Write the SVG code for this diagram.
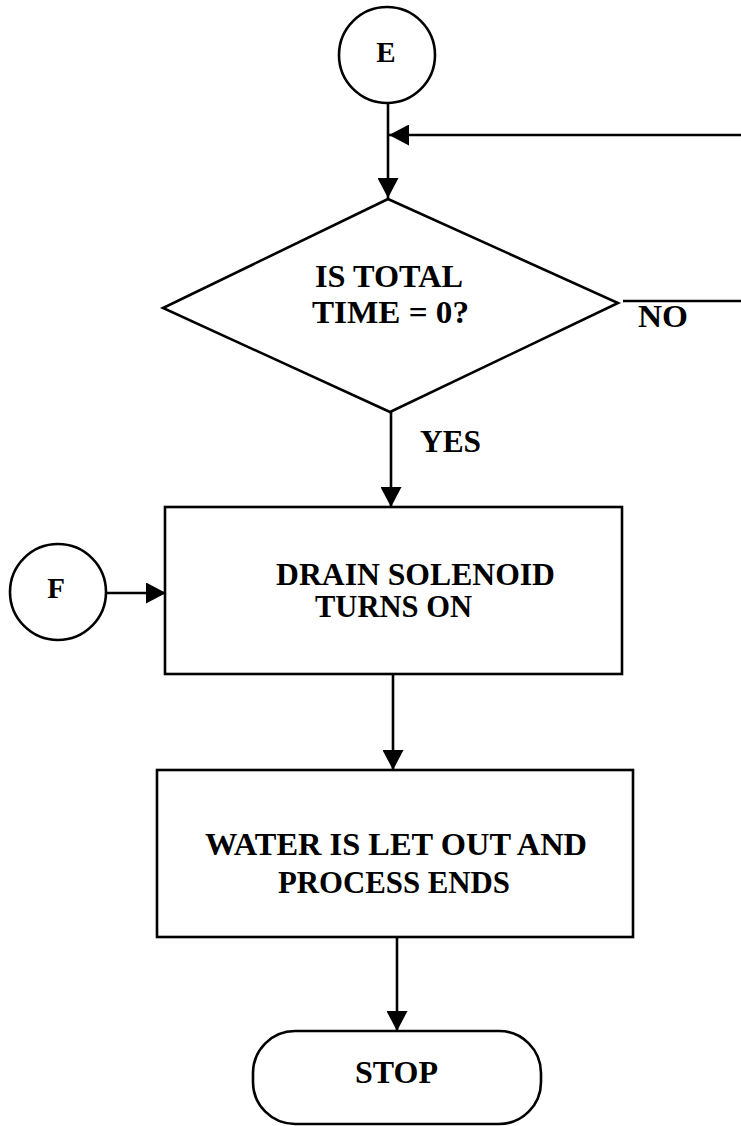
<svg xmlns="http://www.w3.org/2000/svg" width="741" height="1126" viewBox="0 0 741 1126">
<style>
.s{fill:none;stroke:#000;stroke-width:2.6}
.t{font-family:"Liberation Serif","Times New Roman",serif;font-weight:bold;font-size:31px;fill:#000}
.c{text-anchor:middle}
</style>
<defs>
<marker id="ah" viewBox="0 0 20 21" refX="20" refY="10.5" markerWidth="20" markerHeight="21" markerUnits="userSpaceOnUse" orient="auto">
<path d="M0,0 L20,10.5 L0,21 Z" fill="#000"/>
</marker>
</defs>
<rect width="741" height="1126" fill="#fff"/>
<g id="connectors">
<line class="s" x1="388" y1="103" x2="388" y2="198" marker-end="url(#ah)"/>
<line class="s" x1="741" y1="135" x2="389" y2="135" marker-end="url(#ah)"/>
<line class="s" x1="623" y1="301" x2="741" y2="301"/>
<line class="s" x1="391" y1="412" x2="391" y2="507" marker-end="url(#ah)"/>
<line class="s" x1="107" y1="593" x2="166" y2="593" marker-end="url(#ah)"/>
<line class="s" x1="393" y1="674" x2="393" y2="770" marker-end="url(#ah)"/>
<line class="s" x1="397" y1="937" x2="397" y2="1031" marker-end="url(#ah)"/>
<text class="t" x="638" y="327" textLength="50" lengthAdjust="spacingAndGlyphs">NO</text>
<text class="t" x="420" y="452" textLength="61" lengthAdjust="spacingAndGlyphs">YES</text>
</g>
<g id="nodeE">
<circle class="s" cx="387" cy="55" r="48"/>
<text class="t c" x="386" y="62" style="font-size:29px">E</text>
</g>
<g id="decision">
<polygon class="s" points="388,199 618,303 390,412 163,308"/>
<text class="t" x="315" y="287" textLength="148" lengthAdjust="spacingAndGlyphs">IS TOTAL</text>
<text class="t" x="312" y="323" textLength="157" lengthAdjust="spacingAndGlyphs">TIME  =  0?</text>
</g>
<g id="nodeF">
<circle class="s" cx="58" cy="592" r="48"/>
<text class="t c" x="56" y="598" style="font-size:29px">F</text>
</g>
<g id="drain">
<rect class="s" x="165" y="507" width="457" height="167"/>
<text class="t" x="276" y="585" textLength="279" lengthAdjust="spacingAndGlyphs">DRAIN SOLENOID</text>
<text class="t" x="315" y="617" textLength="157" lengthAdjust="spacingAndGlyphs">TURNS ON</text>
</g>
<g id="water">
<rect class="s" x="157" y="770" width="476" height="167"/>
<text class="t" x="205" y="855" textLength="382" lengthAdjust="spacingAndGlyphs">WATER IS LET OUT AND</text>
<text class="t" x="278" y="893" textLength="232" lengthAdjust="spacingAndGlyphs">PROCESS ENDS</text>
</g>
<g id="stop">
<rect class="s" x="253" y="1031" width="288" height="93" rx="42" ry="42"/>
<text class="t" x="355" y="1083" textLength="83" lengthAdjust="spacingAndGlyphs">STOP</text>
</g>
</svg>
